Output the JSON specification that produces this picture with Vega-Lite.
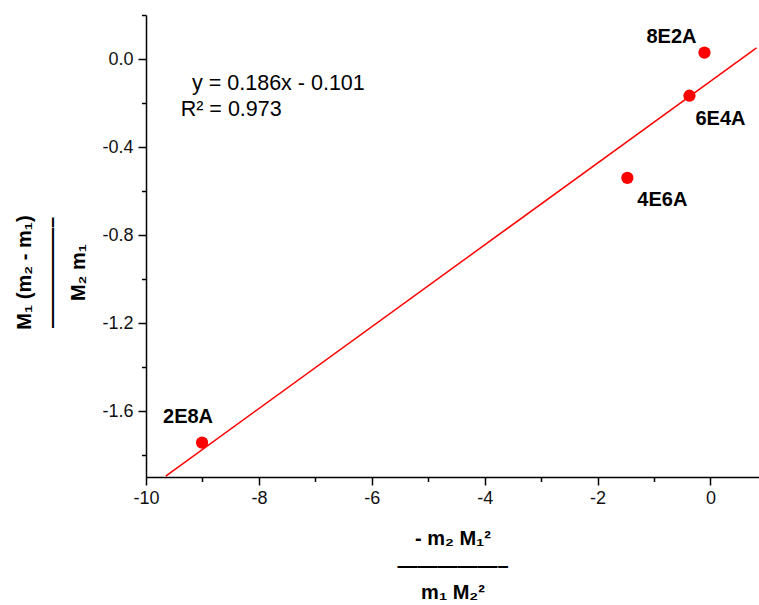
{
  "$schema": "https://vega.github.io/schema/vega-lite/v6.json",
  "width": 613,
  "height": 462,
  "autosize": {"type": "none"},
  "padding": {"left": 146, "top": 15, "right": 0, "bottom": 128},
  "background": "white",
  "config": {
    "view": {"stroke": null},
    "font": "Liberation Sans",
    "axis": {
      "domainColor": "black",
      "domainWidth": 1.5,
      "tickColor": "black",
      "tickWidth": 1.5,
      "labelFont": "Liberation Sans",
      "labelFontSize": 18,
      "labelColor": "#111",
      "labelOverlap": false,
      "labelFlush": false,
      "grid": false,
      "titleFont": "Liberation Sans",
      "titleFontSize": 20,
      "titleFontWeight": "bold",
      "titleColor": "black",
      "titleLineHeight": 27
    }
  },
  "datasets": {
    "points": [
      {"sample": "8E2A", "x": -0.106, "y": 0.029},
      {"sample": "6E4A", "x": -0.372, "y": -0.167},
      {"sample": "4E6A", "x": -1.472, "y": -0.54},
      {"sample": "2E8A", "x": -9.007, "y": -1.744}
    ],
    "fit": [
      {"x": -9.65, "y": -1.896},
      {"x": 0.816, "y": 0.051}
    ],
    "eq": [
      {"x": -9.184, "y": -0.1395, "text": "y = 0.186x - 0.101"},
      {"x": -9.385, "y": -0.261, "text": "R² = 0.973"}
    ]
  },
  "encoding": {
    "x": {
      "field": "x",
      "type": "quantitative",
      "scale": {"domain": [-10, 0.86], "nice": false, "zero": false},
      "axis": {
        "values": [-10, -9, -8, -7, -6, -5, -4, -3, -2, -1, 0],
        "tickSize": {"condition": {"test": "datum.value % 2 === 0", "value": 8}, "value": 4.5},
        "labelExpr": "datum.value % 2 === 0 ? replace(format(datum.value, 'd'), '\u2212', '-') : ''",
        "labelPadding": 4,
        "title": ["- m₂ M₁²", "—————–", "m₁ M₂²"],
        "titlePadding": 21
      }
    },
    "y": {
      "field": "y",
      "type": "quantitative",
      "scale": {"domain": [-1.9, 0.2], "nice": false, "zero": false},
      "axis": {
        "values": [-1.8, -1.6, -1.4, -1.2, -1.0, -0.8, -0.6, -0.4, -0.2, 0, 0.2],
        "tickSize": {"condition": {"test": "abs(datum.value / 0.4 - round(datum.value / 0.4)) < 0.000001", "value": 8}, "value": 4.5},
        "labelExpr": "abs(datum.value / 0.4 - round(datum.value / 0.4)) < 0.000001 ? replace(format(datum.value, '.1f'), '\u2212', '-') : ''",
        "labelPadding": 5,
        "title": ["M₁ (m₂ - m₁)", "—————–", "M₂ m₁"],
        "titlePadding": 13,
        "titleY": 257
      }
    }
  },
  "layer": [
    {
      "data": {"name": "fit"},
      "mark": {"type": "line", "color": "#ff0000", "strokeWidth": 1.5}
    },
    {
      "data": {"name": "points"},
      "mark": {"type": "circle", "color": "#ff0000", "opacity": 1, "size": 150}
    },
    {
      "data": {"name": "points"},
      "transform": [{"filter": "datum.sample === '8E2A'"}],
      "mark": {"type": "text", "font": "Liberation Sans", "fontWeight": "bold", "fontSize": 20, "color": "black", "dx": -33, "dy": -16},
      "encoding": {"text": {"field": "sample"}}
    },
    {
      "data": {"name": "points"},
      "transform": [{"filter": "datum.sample === '6E4A'"}],
      "mark": {"type": "text", "font": "Liberation Sans", "fontWeight": "bold", "fontSize": 20, "color": "black", "dx": 31, "dy": 23},
      "encoding": {"text": {"field": "sample"}}
    },
    {
      "data": {"name": "points"},
      "transform": [{"filter": "datum.sample === '4E6A'"}],
      "mark": {"type": "text", "font": "Liberation Sans", "fontWeight": "bold", "fontSize": 20, "color": "black", "dx": 35, "dy": 22},
      "encoding": {"text": {"field": "sample"}}
    },
    {
      "data": {"name": "points"},
      "transform": [{"filter": "datum.sample === '2E8A'"}],
      "mark": {"type": "text", "font": "Liberation Sans", "fontWeight": "bold", "fontSize": 20, "color": "black", "dx": -14, "dy": -26},
      "encoding": {"text": {"field": "sample"}}
    },
    {
      "data": {"name": "eq"},
      "mark": {"type": "text", "font": "Liberation Sans", "fontSize": 21.5, "color": "black", "align": "left", "baseline": "alphabetic"},
      "encoding": {"text": {"field": "text"}}
    }
  ]
}
